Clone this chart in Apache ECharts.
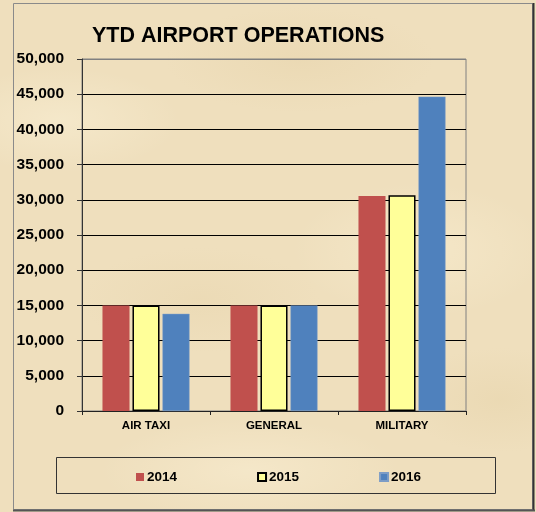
<!DOCTYPE html>
<html>
<head>
<meta charset="utf-8">
<script src="https://cdn.jsdelivr.net/npm/echarts@6/dist/echarts.min.js"></script>
<style>
  html, body { margin: 0; padding: 0; }
  body {
    width: 536px; height: 512px; overflow: hidden;
    background-color: #EFDFBD;
    background-image:
      radial-gradient(ellipse 160px 70px at 60px 120px, rgba(255,248,225,0.35), rgba(255,248,225,0) 75%),
      radial-gradient(ellipse 180px 70px at 300px 60px, rgba(226,205,160,0.3), rgba(226,205,160,0) 75%),
      radial-gradient(ellipse 170px 90px at 420px 250px, rgba(255,246,220,0.35), rgba(255,246,220,0) 75%),
      radial-gradient(ellipse 160px 70px at 200px 300px, rgba(228,208,165,0.3), rgba(228,208,165,0) 75%),
      radial-gradient(ellipse 200px 70px at 250px 470px, rgba(255,246,222,0.35), rgba(255,246,222,0) 75%),
      radial-gradient(ellipse 130px 70px at 500px 400px, rgba(225,204,158,0.3), rgba(225,204,158,0) 75%);
  }
  #chart { width: 536px; height: 512px; }
</style>
</head>
<body>
<div id="chart"></div>
<script>
// 数据
const categories = ['AIR TAXI', 'GENERAL', 'MILITARY'];
const years = ['2014', '2015', '2016'];
const ops2014 = [15000, 15000, 30550];
const ops2015 = [15000, 15000, 30650];
const ops2016 = [13800, 15000, 44650];
const yTicks = [0, 5000, 10000, 15000, 20000, 25000, 30000, 35000, 40000, 45000, 50000];

const chart = echarts.init(document.getElementById('chart'));

const font = 'Liberation Sans, Arial, sans-serif';

// 网格线颜色：最上面一条是灰色边框
const splitColors = yTicks.map((v, i) => i === yTicks.length - 1 ? '#808080' : '#000000');

const option = {
    backgroundColor: 'transparent',
    animation: false,
    title: {
        text: 'YTD AIRPORT OPERATIONS',
        left: 87,
        top: 20,
        textStyle: { fontFamily: font, fontSize: 21.5, fontWeight: 'bold', color: '#000' }
    },
    grid: {
        left: 82, right: 70, top: 59, bottom: 101,
        show: true, borderColor: '#808080', borderWidth: 1, backgroundColor: 'transparent'
    },
    legend: {
        data: years,
        left: 131,
        top: 465,
        itemWidth: 8,
        itemHeight: 8,
        itemGap: 80,
        icon: 'rect',
        textStyle: { fontFamily: font, fontSize: 13.5, fontWeight: 'bold', color: '#000', padding: [0, 0, 0, -2] }
    },
    xAxis: {
        type: 'category',
        data: categories,
        axisLine: { lineStyle: { color: '#222', width: 1 } },
        axisTick: { show: true, length: 4, lineStyle: { color: '#222' } },
        axisLabel: { fontFamily: font, fontSize: 11.5, fontWeight: 'bold', color: '#000', margin: 9 }
    },
    yAxis: {
        type: 'value',
        min: 0,
        max: 50000,
        interval: 5000,
        axisLine: { show: true, lineStyle: { color: '#333', width: 1 } },
        axisTick: { show: true, length: 5, lineStyle: { color: '#333' } },
        axisLabel: {
            fontFamily: font, fontSize: 15.5, fontWeight: 'bold', color: '#000', margin: 18,
            formatter: v => v.toLocaleString('en-US')
        },
        splitLine: { show: true, lineStyle: { color: splitColors, width: 1 } }
    },
    series: [
        {
            name: '2014', type: 'bar', data: ops2014,
            barGap: '11%', barCategoryGap: '32%',
            itemStyle: { color: '#C0504D' }
        },
        {
            name: '2015', type: 'bar', data: ops2015,
            itemStyle: { color: '#FFFF99', borderColor: '#000', borderWidth: 1.5 }
        },
        {
            name: '2016', type: 'bar', data: ops2016,
            itemStyle: { color: '#4F81BD', borderColor: '#7C9CC6', borderWidth: 0.5 }
        }
    ],
    graphic: [
        // 外框
        { type: 'rect', shape: { x: 13.5, y: 3.5, width: 519, height: 506 },
          style: { fill: 'none', stroke: '#8a8a8a', lineWidth: 1 }, z: 0 },
        { type: 'line', shape: { x1: 533.5, y1: 3, x2: 533.5, y2: 511 },
          style: { stroke: '#333', lineWidth: 2 }, z: 0 },
        { type: 'line', shape: { x1: 13, y1: 510.5, x2: 535, y2: 510.5 },
          style: { stroke: '#555', lineWidth: 2 }, z: 0 },
        // 图例框
        { type: 'rect', shape: { x: 56.5, y: 457.5, width: 439, height: 36 },
          style: { fill: 'none', stroke: '#333', lineWidth: 1 }, z: 0 }
    ]
};

chart.setOption(option);
</script>
</body>
</html>
